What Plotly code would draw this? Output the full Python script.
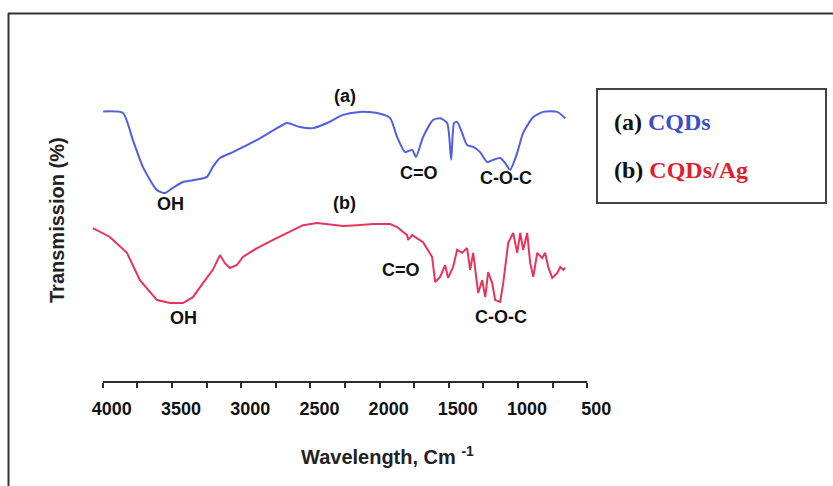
import plotly.graph_objects as go

# ---------------- data ----------------
wn_a = [3998, 3855, 3783, 3711, 3609, 3552, 3494, 3421, 3349, 3248, 3205, 3154, 3060,
        2886, 2741, 2669, 2575, 2481, 2380, 2264, 2141, 2018, 1924, 1874, 1816, 1765,
        1737, 1686, 1614, 1563, 1512, 1483, 1462, 1440, 1404, 1368, 1324, 1274, 1223,
        1180, 1129, 1093, 1057, 1006, 963, 890, 818, 717, 659]
t_a = [73.3, 72.9, 65.6, 58.3, 52.0, 51.2, 52.6, 54.2, 54.7, 55.6, 58.3, 60.7, 62.3,
       65.6, 68.8, 70.2, 69.1, 68.8, 70.2, 72.4, 73.2, 72.9, 71.5, 66.4, 62.3, 62.9,
       61.0, 66.4, 71.0, 71.5, 70.2, 60.2, 70.2, 70.5, 67.5, 64.2, 63.7, 62.3, 59.6,
       60.2, 60.7, 59.3, 57.5, 62.1, 67.5, 71.8, 73.2, 73.2, 71.5]

wn_b = [4072, 3949, 3826, 3732, 3609, 3514, 3421, 3349, 3277, 3205, 3154, 3118, 3082,
        3031, 2988, 2885, 2770, 2647, 2553, 2452, 2358, 2264, 2163, 2047, 1924, 1874,
        1802, 1794, 1765, 1686, 1621, 1599, 1563, 1527, 1505, 1469, 1440, 1404, 1368,
        1346, 1324, 1288, 1259, 1237, 1216, 1187, 1165, 1129, 1107, 1071, 1035, 1006,
        984, 963, 934, 912, 890, 861, 825, 804, 782, 753, 717, 695, 673, 659]
t_b = [41.7, 39.3, 35.0, 27.6, 22.2, 21.4, 21.4, 23.0, 26.8, 30.4, 34.4, 32.2, 30.9,
       31.7, 33.9, 36.3, 38.5, 40.7, 42.5, 43.1, 42.8, 42.3, 42.5, 42.8, 42.8, 42.0,
       39.8, 38.5, 39.8, 37.9, 33.9, 27.1, 28.5, 31.7, 28.2, 31.2, 35.8, 35.0, 36.3,
       30.4, 35.0, 24.1, 27.6, 23.0, 29.8, 26.8, 22.2, 21.7, 26.8, 37.7, 40.4, 35.0,
       40.4, 35.8, 40.4, 32.2, 28.5, 35.0, 33.6, 35.0, 31.2, 28.2, 29.5, 31.2, 30.4, 30.9]

x_start, x_end = 4000, 500
major_step, minor_step = 500, 250

peak_labels = ["(a)", "(b)", "OH", "OH", "C=O", "C-O-C", "C=O", "C-O-C"]
peak_x = [2250, 2257, 3508, 3414, 1715, 1086, 1845, 1122]
peak_y = [77.5, 48.5, 48.2, 17.3, 56.6, 55.3, 30.4, 17.6]

series_names = ["CQDs", "CQDs/Ag"]

# ---------------- layout geometry ----------------
W, H = 833, 486
ML, MR, MT, MB = 89, 243, 13, 104
XR = [4100, 480]
YR = [0, 100]
PW, PH = W - ML - MR, H - MT - MB

def paper_x(px):
    return (px - ML) / PW

def paper_y(py):
    return (H - MB - py) / PH

def wn_to_paper(v):
    return (v - XR[0]) / (XR[1] - XR[0])

BLUE = "#5060dc"
RED = "#e6345a"
DARK = "#2b2b2b"
FONT = "Liberation Sans, Arial, sans-serif"

fig = go.Figure()
fig.add_trace(go.Scatter(x=wn_a, y=t_a, mode="lines", name=series_names[0],
                         line=dict(color=BLUE, width=2, shape="spline", smoothing=0.6)))
fig.add_trace(go.Scatter(x=wn_b, y=t_b, mode="lines", name=series_names[1],
                         line=dict(color=RED, width=2)))

for txt, x, y in zip(peak_labels, peak_x, peak_y):
    fig.add_annotation(x=x, y=y, xref="x", yref="y", text="<b>%s</b>" % txt,
                       xanchor="center", yanchor="middle",
                       showarrow=False, font=dict(family=FONT, size=18, color="#111"))

# axis titles
fig.add_annotation(x=paper_x(387), y=paper_y(455), xref="paper", yref="paper",
                   xanchor="center", yanchor="middle",
                   text="<b>Wavelength, Cm <sup>-1</sup></b>", showarrow=False,
                   font=dict(family=FONT, size=20, color="#222"))
fig.add_annotation(x=paper_x(57), y=paper_y(220), xref="paper", yref="paper",
                   xanchor="center", yanchor="middle",
                   text="<b>Transmission (%)</b>", showarrow=False, textangle=-90,
                   font=dict(family=FONT, size=20, color="#222"))

# legend box
fig.add_shape(type="rect", xref="paper", yref="paper",
              x0=paper_x(597), x1=paper_x(826), y0=paper_y(89), y1=paper_y(203),
              line=dict(color="#444", width=2), fillcolor="white")
SERIF = "Liberation Serif, Times New Roman, serif"
fig.add_annotation(x=paper_x(612), y=paper_y(122), xref="paper", yref="paper",
                   xanchor="left", yanchor="middle", showarrow=False,
                   text="<b>(a) <span style='color:%s'>%s</span></b>" % ("#3c4fc4", series_names[0]),
                   font=dict(family=SERIF, size=24, color="#111"))
fig.add_annotation(x=paper_x(612), y=paper_y(170), xref="paper", yref="paper",
                   xanchor="left", yanchor="middle", showarrow=False,
                   text="<b>(b) <span style='color:%s'>%s</span></b>" % ("#e0202c", series_names[1]),
                   font=dict(family=SERIF, size=24, color="#111"))

# outer frame (top + left)
fig.add_shape(type="line", xref="paper", yref="paper",
              x0=paper_x(8), x1=paper_x(840), y0=paper_y(13.5), y1=paper_y(13.5),
              line=dict(color="#333", width=2))
fig.add_shape(type="line", xref="paper", yref="paper",
              x0=paper_x(8.5), x1=paper_x(8.5), y0=paper_y(13), y1=paper_y(490),
              line=dict(color="#333", width=2))

# x axis line from 4000 to 500
fig.add_shape(type="line", xref="paper", yref="paper",
              x0=wn_to_paper(x_start), x1=wn_to_paper(x_end), y0=0, y1=0,
              line=dict(color=DARK, width=2))

fig.update_layout(
    width=W, height=H, margin=dict(l=ML, r=MR, t=MT, b=MB),
    paper_bgcolor="white", plot_bgcolor="white", showlegend=False,
    xaxis=dict(range=XR, showgrid=False, zeroline=False, showline=False,
               tickmode="linear", tick0=x_end, dtick=major_step,
               ticks="outside", ticklen=5, tickwidth=1.5, tickcolor=DARK,
               minor=dict(dtick=minor_step, tick0=x_end, ticks="outside",
                          ticklen=5, tickwidth=1.5, tickcolor=DARK, showgrid=False),
               ticklabelshift=-9, ticklabelstandoff=5,
               tickfont=dict(family=FONT, size=18, color="#111", weight="bold")),
    yaxis=dict(range=YR, visible=False),
)

fig.write_html("out.html")
